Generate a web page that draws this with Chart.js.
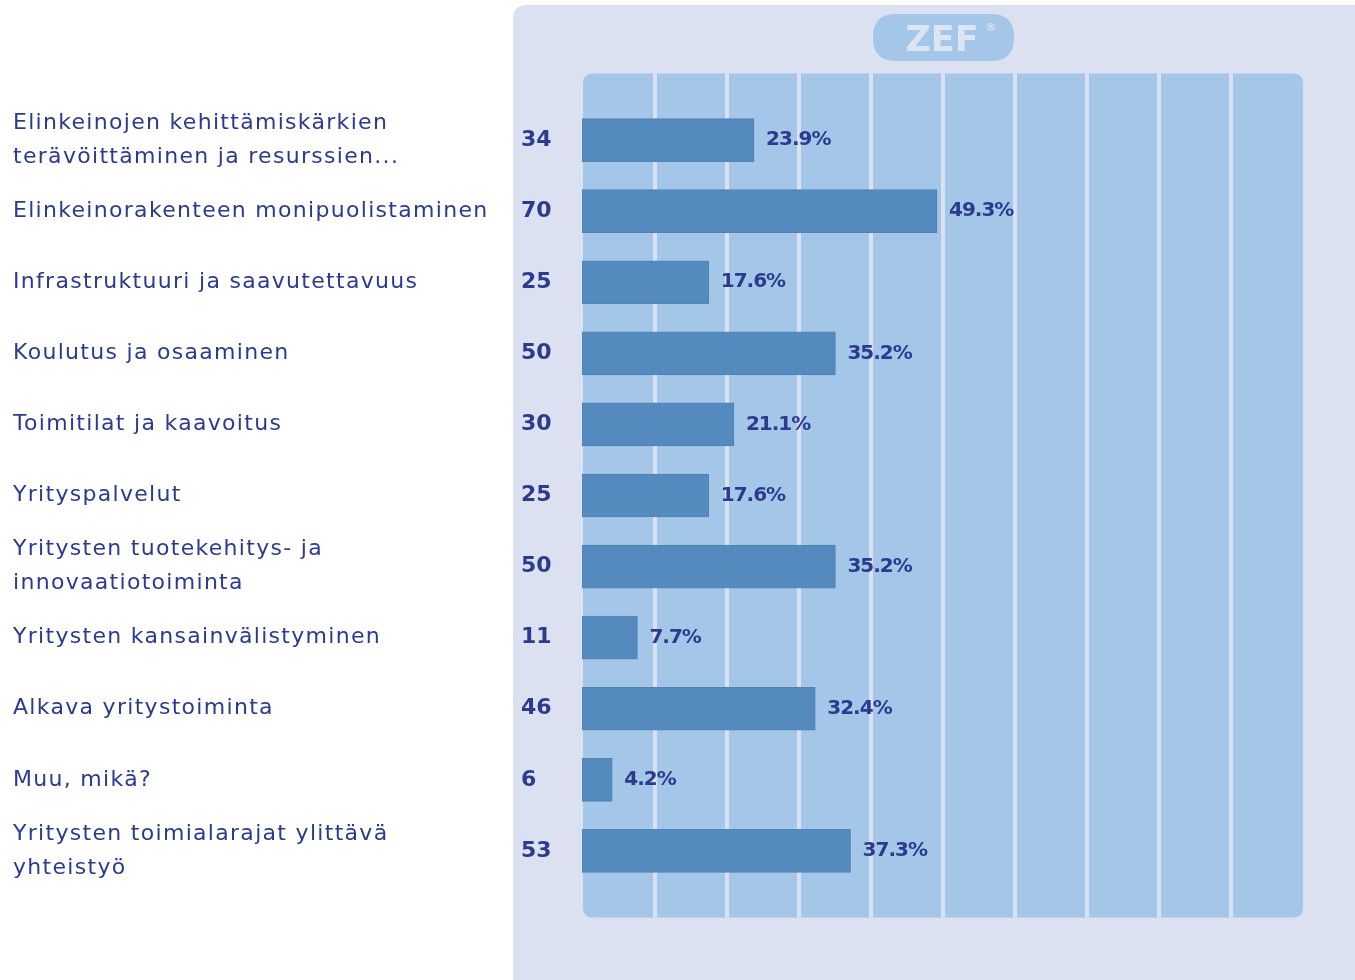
<!DOCTYPE html>
<html>
<head>
<meta charset="utf-8">
<script src="https://cdn.jsdelivr.net/npm/chart.js@4.4.1/dist/chart.umd.min.js"></script>
<style>
body{margin:0;background:#fff;}
#wrap{width:1355px;height:980px;position:relative;}
</style>
</head>
<body>
<div id="wrap"><canvas id="zefChart"></canvas></div>
<script>
// answer options (multi-line where the original wraps)
const categories = [
["Elinkeinojen kehittämiskärkien","terävöittäminen ja resurssien..."],
["Elinkeinorakenteen monipuolistaminen"],
["Infrastruktuuri ja saavutettavuus"],
["Koulutus ja osaaminen"],
["Toimitilat ja kaavoitus"],
["Yrityspalvelut"],
["Yritysten tuotekehitys- ja","innovaatiotoiminta"],
["Yritysten kansainvälistyminen"],
["Alkava yritystoiminta"],
["Muu, mikä?"],
["Yritysten toimialarajat ylittävä","yhteistyö"]
];

const counts = [34,70,25,50,30,25,50,11,46,6,53];

const percents = [23.9,49.3,17.6,35.2,21.1,17.6,35.2,7.7,32.4,4.2,37.3];

const gridSteps = [10,20,30,40,50,60,70,80,90];

const navy = "#2c3b8e";
const panelColor = "#dbe1f0";
const plotColor = "#a4c6e8";
const barColor = "#548abd";

function roundRect(ctx,x,y,w,h,r){
ctx.beginPath();
ctx.moveTo(x+r,y);
ctx.lineTo(x+w-r,y);
ctx.quadraticCurveTo(x+w,y,x+w,y+r);
ctx.lineTo(x+w,y+h-r);
ctx.quadraticCurveTo(x+w,y+h,x+w-r,y+h);
ctx.lineTo(x+r,y+h);
ctx.quadraticCurveTo(x,y+h,x,y+h-r);
ctx.lineTo(x,y+r);
ctx.quadraticCurveTo(x,y,x+r,y);
ctx.closePath();
}

const backdrop = {
id:"backdrop",
beforeDraw(chart){
const ctx = chart.ctx;
const xs = chart.scales.x;
const area = chart.chartArea;
ctx.save();

// outer panel
ctx.fillStyle = panelColor;
roundRect(ctx,513,5,900,1000,14);
ctx.fill();

// ZEF pill
ctx.fillStyle = plotColor;
roundRect(ctx,873,14,141,47,23);
ctx.fill();
ctx.fillStyle = "#dde4f2";
ctx.font = "bold 35px 'DejaVu Sans'";
ctx.textAlign = "center";
ctx.textBaseline = "alphabetic";
ctx.fillText("ZEF",942,51);
ctx.font = "bold 11px 'DejaVu Sans'";
ctx.fillText("®",991,31);

// plot background
const left = xs.getPixelForValue(0)+1;
const right = xs.getPixelForValue(100)+1;
const top = area.top-31;
const bottom = area.bottom+31;
ctx.fillStyle = plotColor;
roundRect(ctx,left,top,right-left,bottom-top,10);
ctx.fill();

// vertical separators
ctx.strokeStyle = panelColor;
ctx.lineWidth = 4;
gridSteps.forEach(v=>{
const x = Math.round(xs.getPixelForValue(v))+1;
ctx.beginPath();
ctx.moveTo(x,top);
ctx.lineTo(x,bottom);
ctx.stroke();
});

ctx.restore();
},
afterDatasetsDraw(chart){
const ctx = chart.ctx;
const ys = chart.scales.y;
const xs = chart.scales.x;
ctx.save();
ctx.textBaseline = "middle";
ctx.fillStyle = navy;

categories.forEach((lines,i)=>{
const cy = ys.getPixelForValue(i);

// category text
ctx.font = "22px 'DejaVu Sans'";
ctx.letterSpacing = "1.3px";
ctx.textAlign = "left";
const start = cy-(lines.length-1)*17;
lines.forEach((t,j)=>{
ctx.fillText(t,13,start+j*34);
});

// count
ctx.font = "bold 22px 'DejaVu Sans'";
ctx.letterSpacing = "0px";
ctx.fillText(String(counts[i]),521,cy);

// percent
ctx.font = "bold 20px 'DejaVu Sans'";
ctx.letterSpacing = "-1px";
ctx.fillText(percents[i].toFixed(1)+"%",xs.getPixelForValue(percents[i])+12,cy);
});

ctx.restore();
}
};

const ctx = document.getElementById("zefChart");

new Chart(ctx,{
type:"bar",
data:{
labels:categories,
datasets:[{
data:percents,
backgroundColor:barColor,
borderColor:"#4f84b6",
borderWidth:1,
borderSkipped:false,
barThickness:43
}]
},
options:{
indexAxis:"y",
responsive:true,
maintainAspectRatio:false,
animation:false,
layout:{
padding:{left:582,right:53,top:104.5,bottom:93.5}
},
scales:{
x:{display:false,min:0,max:100},
y:{display:false}
},
plugins:{
legend:{display:false},
tooltip:{enabled:false}
}
},
plugins:[backdrop]
});
</script>
</body>
</html>
